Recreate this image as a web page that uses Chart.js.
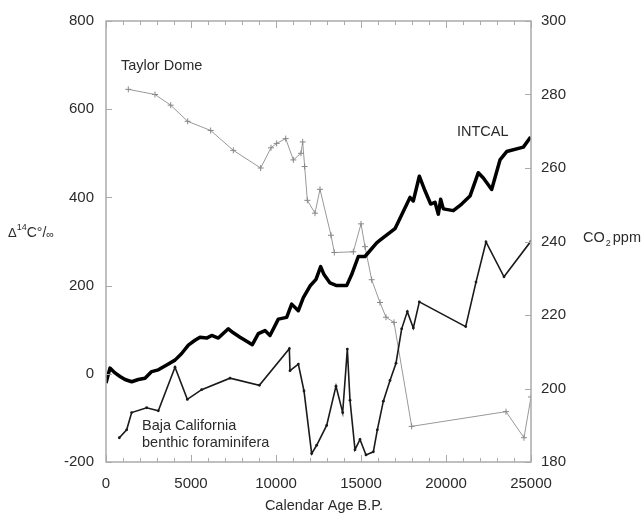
<!DOCTYPE html>
<html>
<head>
<meta charset="utf-8">
<script src="https://cdn.jsdelivr.net/npm/chart.js@4/dist/chart.umd.min.js"></script>
<style>
  html, body { margin: 0; padding: 0; background: #fff; }
  #wrap { width: 644px; height: 516px; }
</style>
</head>
<body>
<div id="wrap"><canvas id="c14Chart" width="644" height="516"></canvas></div>
<script>
// INTCAL curve (left axis, Δ14C per mil)
const intcalAge = [0, 235, 529, 824, 1118, 1510, 1900, 2294, 2686, 3078, 3569, 4059, 4451, 4843, 5235, 5529,
  5922, 6216, 6608, 6941, 7196, 7490, 7882, 8275, 8608, 8961, 9353, 9647, 10137, 10627, 10922, 11314,
  11608, 12000, 12353, 12627, 12824, 13176, 13569, 14157, 14451, 14843, 15235, 15922, 16118, 17000,
  17882, 18078, 18431, 18765, 19098, 19353, 19549, 19686, 19843, 20431, 20922, 21412, 21902, 22196,
  22686, 23176, 23569, 24549, 24980];
const intcalD14C = [-21, 13, 2, -6, -13, -18, -13, -10, 5, 9, 20, 31, 46, 65, 76, 83,
  81, 87, 81, 93, 102, 93, 83, 74, 66, 91, 98, 87, 124, 128, 158, 143,
  173, 199, 214, 243, 225, 206, 200, 200, 225, 266, 266, 297, 303, 329,
  400, 392, 448, 415, 385, 389, 362, 396, 374, 370, 385, 403, 456, 444,
  418, 485, 504, 514, 537];

// Baja California benthic foraminifera (left axis)
const bajaAge = [784, 1216, 1510, 2392, 3078, 4059, 4784, 5627, 7294, 9020, 10784, 10824, 11314, 11647,
  12098, 12392, 12980, 13529, 13922, 14196, 14353, 14647, 14941, 15294, 15725, 15961, 16314, 16706,
  17059, 17392, 17725, 18078, 18431, 21157, 21765, 22353, 23412, 25000];
const bajaD14C = [-145, -127, -88, -77, -84, 15, -58, -36, -10, -26, 57, 7, 22, -39,
  -181, -162, -117, -28, -88, 56, -60, -172, -149, -184, -177, -127, -62, -15,
  24, 102, 141, 104, 163, 107, 208, 299, 220, 301];

// Taylor Dome CO2 (right axis, ppm)
const taylorAge = [1312, 2882, 3804, 4804, 6157, 7490, 9098, 9706, 10039, 10569, 11020, 11470, 11569,
  11686, 11843, 12294, 12588, 13235, 13431, 14549, 15000, 15235, 15627, 16118, 16470, 16941, 17980,
  23529, 24588, 25000];
const taylorCO2 = [281.4, 280, 277.1, 272.7, 270.2, 264.8, 260, 265.5, 266.7, 268, 262.2, 264, 267.1,
  260.4, 251.2, 247.7, 254.2, 241.7, 237, 237.2, 244.8, 238.6, 229.6, 223.4, 219.4, 218, 189.7,
  193.7, 186.6, 197.7];

const leftTicks = [-200, 0, 200, 400, 600, 800];
const rightTicks = [180, 200, 220, 240, 260, 280, 300];
const xTicks = [0, 5000, 10000, 15000, 20000, 25000];

const FONT = '"Liberation Sans", Arial, sans-serif';
const TXT = '#2b2b2b';
const AXIS = '#aaa';

const pairs = (xs, ys) => xs.map((x, i) => ({ x: x, y: ys[i] }));

// frame and inward tick marks
const framePlugin = {
  id: 'frame',
  afterDatasetsDraw(chart) {
    const { ctx, chartArea: a, scales } = chart;
    ctx.save();
    ctx.strokeStyle = AXIS;
    ctx.lineWidth = 1.5;
    ctx.strokeRect(a.left, a.top, a.right - a.left, a.bottom - a.top);
    ctx.lineWidth = 1;
    ctx.beginPath();
    for (let v = 0; v <= 25000; v += 1000) {
      const px = Math.round(scales.x.getPixelForValue(v)) + 0.5;
      const len = v % 5000 === 0 ? 7 : 4;
      ctx.moveTo(px, a.bottom); ctx.lineTo(px, a.bottom - len);
      ctx.moveTo(px, a.top); ctx.lineTo(px, a.top + len);
    }
    leftTicks.forEach(v => {
      const py = Math.round(scales.y.getPixelForValue(v)) + 0.5;
      ctx.moveTo(a.left, py); ctx.lineTo(a.left + 6, py);
    });
    rightTicks.forEach(v => {
      const py = Math.round(scales.y2.getPixelForValue(v)) + 0.5;
      ctx.moveTo(a.right, py); ctx.lineTo(a.right - 6, py);
    });
    ctx.stroke();
    ctx.restore();
  }
};

// axis titles and series labels
const labelPlugin = {
  id: 'labels',
  afterDraw(chart) {
    const { ctx } = chart;
    ctx.save();
    ctx.fillStyle = TXT;
    ctx.textBaseline = 'middle';
    ctx.textAlign = 'left';

    ctx.font = '14.5px ' + FONT;
    ctx.fillText('Taylor Dome', 121, 66);
    ctx.fillText('INTCAL', 457, 132);
    ctx.fillText('Baja California', 142, 426);
    ctx.fillText('benthic foraminifera', 142, 443);

    // Δ14C°/∞
    let x = 8, y = 233;
    ctx.font = '13px ' + FONT;
    ctx.fillText('\u0394', x, y);
    x += ctx.measureText('\u0394').width;
    ctx.font = '9px ' + FONT;
    ctx.fillText('14', x, y - 5);
    x += ctx.measureText('14').width;
    ctx.font = '14px ' + FONT;
    ctx.fillText('C\u00b0/', x, y);
    x += ctx.measureText('C\u00b0/').width;
    ctx.font = '11px ' + FONT;
    ctx.fillText('\u221e', x, y + 2);

    // CO2 ppm
    x = 583; y = 238;
    ctx.font = '14.5px ' + FONT;
    ctx.fillText('CO', x, y);
    x += ctx.measureText('CO').width;
    ctx.font = '9px ' + FONT;
    ctx.fillText('2', x + 1, y + 6);
    x += ctx.measureText('2').width + 3;
    ctx.font = '14.5px ' + FONT;
    ctx.fillText('ppm', x, y);

    ctx.textAlign = 'center';
    ctx.font = '14.5px ' + FONT;
    ctx.fillText('Calendar Age B.P.', 324, 506);
    ctx.restore();
  }
};

const plainTick = v => String(v);

const ctx = document.getElementById('c14Chart').getContext('2d');
new Chart(ctx, {
  type: 'line',
  data: {
    datasets: [
      {
        label: 'INTCAL',
        data: pairs(intcalAge, intcalD14C),
        yAxisID: 'y',
        borderColor: '#000',
        borderWidth: 3.5,
        pointRadius: 0,
        tension: 0,
        borderJoinStyle: 'round'
      },
      {
        label: 'Baja California benthic foraminifera',
        data: pairs(bajaAge, bajaD14C),
        yAxisID: 'y',
        borderColor: '#1a1a1a',
        borderWidth: 1.6,
        pointRadius: 1.4,
        pointBackgroundColor: '#1a1a1a',
        pointBorderWidth: 0,
        tension: 0
      },
      {
        label: 'Taylor Dome',
        data: pairs(taylorAge, taylorCO2),
        yAxisID: 'y2',
        borderColor: '#999',
        borderWidth: 1,
        pointStyle: 'cross',
        pointRadius: 3,
        pointBorderColor: '#888',
        pointBorderWidth: 1,
        tension: 0
      }
    ]
  },
  options: {
    responsive: false,
    animation: false,
    layout: { padding: { top: 14, left: 0, right: 0, bottom: 0 } },
    plugins: {
      legend: { display: false },
      tooltip: { enabled: false }
    },
    scales: {
      x: {
        type: 'linear',
        min: 0,
        max: 25000,
        afterFit: s => { s.height = 54; },
        afterBuildTicks: s => { s.ticks = xTicks.map(v => ({ value: v })); },
        grid: { display: false, drawTicks: false },
        border: { display: false },
        ticks: { color: TXT, font: { family: FONT, size: 15 }, padding: 13, maxRotation: 0, callback: plainTick }
      },
      y: {
        position: 'left',
        min: -200,
        max: 800,
        afterFit: s => { s.width = 106; },
        afterBuildTicks: s => { s.ticks = leftTicks.map(v => ({ value: v })); },
        grid: { display: false, drawTicks: false },
        border: { display: false },
        ticks: { color: TXT, font: { family: FONT, size: 15 }, padding: 12, callback: plainTick }
      },
      y2: {
        position: 'right',
        min: 180,
        max: 300,
        afterFit: s => { s.width = 113; },
        afterBuildTicks: s => { s.ticks = rightTicks.map(v => ({ value: v })); },
        grid: { display: false, drawTicks: false },
        border: { display: false },
        ticks: { color: TXT, font: { family: FONT, size: 15 }, padding: 10, callback: plainTick }
      }
    }
  },
  plugins: [framePlugin, labelPlugin]
});
</script>
</body>
</html>
